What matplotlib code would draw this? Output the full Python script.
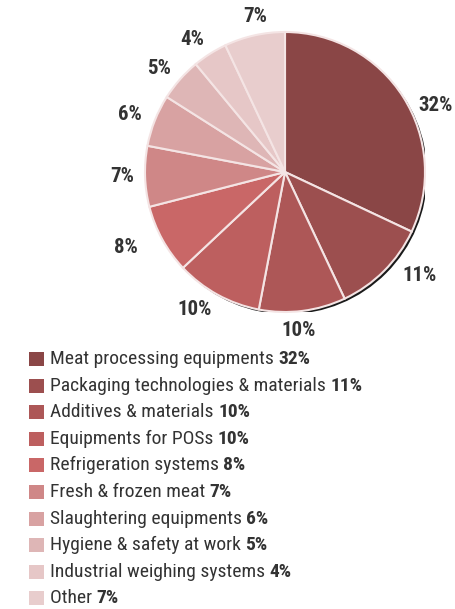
import matplotlib
matplotlib.use("Agg")
import matplotlib.pyplot as plt
from matplotlib.patches import Rectangle, Circle

categories = ["Meat processing equipments", "Packaging technologies & materials",
              "Additives & materials", "Equipments for POSs", "Refrigeration systems",
              "Fresh & frozen meat", "Slaughtering equipments", "Hygiene & safety at work",
              "Industrial weighing systems", "Other"]
values = [32, 11, 10, 10, 8, 7, 6, 5, 4, 7]
colors = ["#8a4646", "#9c4f4f", "#ad5757", "#bd5f5f", "#c96767", "#cf8787",
          "#d8a2a2", "#deb6b6", "#e6c7c7", "#e8cdcd"]
# label nudges in pixels (right, down) relative to default placement
label_nudge = [(12, 21), (19, -12), (-7, -4), (-11, -6), (-16, -3),
               (1, -1), (-3, 3), (-3, 5), (-5, 6), (6, 4)]

plt.rcParams['font.family'] = ["Roboto Condensed", "DejaVu Sans"]
txtcol = "#333333"

W, H = 455, 609
fig = plt.figure(figsize=(W/100, H/100), dpi=100)
cx, cy, r = 285, 172, 140
ax = fig.add_axes([(cx - r)/W, 1 - (cy + r)/H, 2*r/W, 2*r/H])
ax.set_aspect('equal')
ax.add_patch(Circle((0.016, -0.016), 1.0, facecolor="#1a1a1a", edgecolor='none', zorder=0))
wedges, texts = ax.pie(values, colors=colors, startangle=90, counterclock=False,
                       labels=[f"{v}%" for v in values], labeldistance=1.17,
                       wedgeprops=dict(edgecolor="#f4e4e4", linewidth=1.5),
                       textprops=dict(fontsize=15, fontweight='bold', color=txtcol))
for t, (nx, ny) in zip(texts, label_nudge):
    t.set_horizontalalignment('center')
    t.set_verticalalignment('center')
    x, y = t.get_position()
    t.set_position((x + nx/r, y - ny/r))
ax.set_xlim(-1, 1)
ax.set_ylim(-1, 1)
ax.axis('off')

fig.canvas.draw()
renderer = fig.canvas.get_renderer()
y0, dy = 359, 26.6
for i, (cat, v, c) in enumerate(zip(categories, values, colors)):
    yc = y0 + i*dy
    fig.patches.append(Rectangle((29/W, 1 - (yc + 7)/H), 15/W, 14/H,
                                 transform=fig.transFigure, facecolor=c, edgecolor='none'))
    t1 = fig.text(50/W, 1 - yc/H, cat + " ", fontsize=14, color=txtcol, va='center', ha='left')
    bb = t1.get_window_extent(renderer)
    fig.text(bb.x1/W, 1 - yc/H, f"{v}%", fontsize=14, fontweight='bold', color=txtcol,
             va='center', ha='left')

fig.savefig("out.png", dpi=100)
